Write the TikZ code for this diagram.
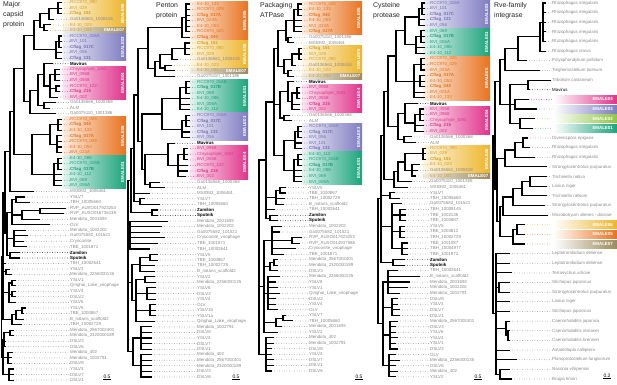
\documentclass[tikz,border=0pt]{standalone}
\usepackage{fontspec}
\setmainfont{Liberation Sans}
\usetikzlibrary{calc}
\definecolor{cO}{HTML}{E8731E}
\definecolor{cY}{HTML}{EDB52A}
\definecolor{cB}{HTML}{9C8A5E}
\definecolor{cP}{HTML}{7E7BC1}
\definecolor{cM}{HTML}{E0338B}
\definecolor{cN}{HTML}{1BA47B}
\definecolor{cL}{HTML}{8DC641}
\definecolor{lg}{HTML}{8A8A8A}
\colorlet{tO}{cO}
\colorlet{tY}{cY!88!black}
\colorlet{tP}{cP!92!black}
\colorlet{tM}{cM}
\colorlet{tN}{cN}
\newcounter{rw}
\newcounter{bx}
\newcommand\PF{a}\newcommand\LX{70}\newcommand\Yz{0}\newcommand\DY{5}
\newcommand\setpanel[4]{\setcounter{rw}{0}\renewcommand\PF{#1}\renewcommand\LX{#2}\renewcommand\Yz{#3}\renewcommand\DY{#4}}
% leaf: tip x, colour, text
\newcommand\lf[3]{%
  \stepcounter{rw}%
  \pgfmathsetmacro\yy{\Yz+(\arabic{rw}-1)*\DY}%
  \coordinate (\PF\arabic{rw}) at (#1,\yy);
  \node[lab,text=#2] (\PF\arabic{rw}t) at (\LX,\yy) {#3};
  \draw[lead,draw=#2] (\PF\arabic{rw}) -- (\PF\arabic{rw}t.west);
}
% leaf with EMALE bar (panel 5)
\newcommand\lfb[3]{%
  \stepcounter{rw}%
  \pgfmathsetmacro\yy{\Yz+(\arabic{rw}-1)*\DY}%
  \coordinate (\PF\arabic{rw}) at (#1,\yy);
  \shade[left color=white,right color=#2] (553,{\yy-4}) rectangle (617,{\yy+4});
  \node[emhz,anchor=east] (\PF\arabic{rw}t) at (613,\yy) {#3};
  \coordinate (\PF\arabic{rw}s) at (552,\yy);
  \draw[lead,draw=#2] (\PF\arabic{rw}) -- (\PF\arabic{rw}s);
}
% clade: name, x, children
\newcommand\cl[3]{%
  \gdef\cfirst{}%
  \foreach \kid in {#3}{\ifx\cfirst\empty\xdef\cfirst{\kid}\fi\xdef\clast{\kid}}%
  \path let \p1=(\cfirst), \p2=(\clast) in (#2pt,{0.5*\y1+0.5*\y2}) coordinate (#1);
  \foreach \kid in {#3}{\draw[br] (#1) |- (\kid);}%
}
% vertical EMALE box: xl, xr, first row, last row, colour, label
\newcommand\emb[6]{%
  \stepcounter{bx}%
  \pgfmathsetmacro\ya{\Yz+(#3-1.5)*\DY}%
  \pgfmathsetmacro\yb{\Yz+(#4-0.5)*\DY}%
  \pgfmathsetmacro\ym{(\ya+\yb)/2}%
  \shade[left color=#5!12,right color=#5] (#1,\ya) rectangle (#2,\yb);
  \node[emv] (bx\arabic{bx}) at ({#2-3.4},\ym) {#6};
}
% horizontal EMALE07 bar: xl, xr, row, colour, label
\newcommand\emh[5]{%
  \stepcounter{bx}%
  \pgfmathsetmacro\ya{\Yz+(#3-1.5)*\DY}%
  \pgfmathsetmacro\yb{\Yz+(#3-0.5)*\DY}%
  \pgfmathsetmacro\ym{\Yz+(#3-1)*\DY}%
  \shade[left color=#4!15,right color=#4] (#1,\ya) rectangle (#2,\yb);
  \node[emhz,anchor=east] (bx\arabic{bx}) at ({#2-1.5},\ym) {#5};
}
\begin{document}
\begin{tikzpicture}[x=1pt,y=-1pt,
  br/.style={line width=1.1pt,black},
  lead/.style={line width=0.75pt,line cap=round,dash pattern=on 0pt off 2.5pt},
  lab/.style={anchor=west,inner sep=0pt,font=\fontsize{4.4}{5}\selectfont},
  emv/.style={rotate=90,text=white,inner sep=0pt,font=\fontsize{4.4}{5}\selectfont\bfseries},
  emhz/.style={text=white,inner sep=0pt,font=\fontsize{4.4}{5}\selectfont\bfseries},
  ttl/.style={anchor=north west,align=left,inner sep=0pt,text=black!85,font=\fontsize{6.9}{9.8}\selectfont},
  scl/.style={inner sep=0pt,font=\fontsize{5}{6}\selectfont}]
\useasboundingbox (0,0) rectangle (617,384);
\fill[white] (0,0) rectangle (617,384);

% titles
\node[ttl] (t1) at (3,1.5) {Major\\capsid\\protein};
\node[ttl] (t2) at (156,3) {Penton\\protein};
\node[ttl] (t3) at (260,2) {Packaging\\ATPase};
\node[ttl] (t4) at (373,2) {Cysteine\\protease};
\node[ttl] (t5) at (494,2) {Rve-family\\integrase};

%%%%%%%%%%%%%%%% PANEL 1
\setpanel{a}{70}{2.7}{5.55}
\emb{63}{126}{1}{5}{cY}{EMALE06}
\emh{63}{126}{6}{cB}{EMALE07}
\emb{63}{126}{7}{11}{cP}{EMALE03}
\emb{63}{126}{13}{18}{cM}{EMALE04}
\emb{63}{126}{22}{28}{cO}{EMALE05}
\emb{63}{126}{29}{34}{cN}{EMALE01}
\lf{62}{tY}{RCC970\_090}
\lf{62}{tY}{BVI\_029}
\lf{62}{tY}{\textbf{Cflag\_151}}
\lf{54}{lg}{Ga0136561\_1000418}
\lf{51}{tY}{E4-10\_023}
\lf{48}{tY}{E4-10\_001}
\lf{62}{tP}{RCC970\_016A}
\lf{62}{tP}{BVI\_101}
\lf{62}{tP}{\textbf{Cflag\_017C}}
\lf{62}{tP}{BVI\_056}
\lf{62}{tP}{\textbf{Cflag\_131}}
\lf{53}{black}{\textbf{Mavirus}}
\lf{60}{tM}{Chrysophyte\_SAG}
\lf{60}{tM}{BVI\_0968}
\lf{60}{tM}{BVI\_0558}
\lf{60}{tM}{RCC970\_122}
\lf{60}{tM}{\textbf{Cflag\_215}}
\lf{58}{tM}{BVI\_002}
\lf{56}{lg}{Ga0136566\_1000368}
\lf{50}{lg}{ALM}
\lf{56}{lg}{Ga0075110\_1001386}
\lf{62}{tO}{RCC970\_025}
\lf{62}{tO}{\textbf{Cflag\_040}}
\lf{62}{tO}{E4-10\_133}
\lf{62}{tO}{\textbf{Cflag\_017A}}
\lf{62}{tO}{RCC970\_029}
\lf{62}{tO}{E4-10\_053}
\lf{62}{tO}{BVI\_023A}
\lf{62}{tN}{E4-10\_086}
\lf{62}{tN}{RCC970\_016B}
\lf{62}{tN}{\textbf{Cflag\_017B}}
\lf{62}{tN}{E4-10\_112}
\lf{62}{tN}{BVI\_069}
\lf{62}{tN}{BVI\_006A}
\lf{34}{lg}{MSI0M2\_1006461}
\lf{25}{lg}{YSLV7}
\lf{30}{lg}{TBH\_10005660}
\lf{66}{lg}{RVP\_AUXO017923253}
\lf{64}{lg}{RVP\_AUXO016736138}
\lf{40}{lg}{Mendota\_2001693}
\lf{50}{lg}{OLV}
\lf{26}{lg}{Mendota\_1002202}
\lf{28}{lg}{Ga0075582\_101521}
\lf{24}{lg}{Cryoconite}
\lf{27}{lg}{TBE\_1001871}
\lf{20}{black}{\textbf{Zamilon}}
\lf{20}{black}{\textbf{Sputnik}}
\lf{6}{lg}{TBH\_10002641}
\lf{10}{lg}{YSLV2}
\lf{12}{lg}{Mendota\_2256000135}
\lf{16}{lg}{YSLV1}
\lf{16}{lg}{Qinghai\_Lake\_virophage}
\lf{16}{lg}{YSLV4}
\lf{16}{lg}{DSLV2}
\lf{16}{lg}{YSLV6}
\lf{26}{lg}{YSLV5}
\lf{24}{lg}{TBE\_1000867}
\lf{24}{lg}{B\_natans\_scaffold2}
\lf{22}{lg}{TBH\_10002729}
\lf{14}{lg}{Mendota\_2567002401}
\lf{14}{lg}{Mendota\_2320000189}
\lf{6}{lg}{DSLV3}
\lf{6}{lg}{DSLV6}
\lf{13}{lg}{Mendota\_402}
\lf{12}{lg}{Mendota\_1002791}
\lf{12}{lg}{DSLV8}
\lf{14}{lg}{YSLV3}
\lf{14}{lg}{DSLV7}
\lf{14}{lg}{DSLV1}
\cl{aYa}{58}{a1,a2,a3}
\cl{aYb}{49}{aYa,a4}
\cl{aYc}{44}{a5,a6}
\cl{aY}{40}{aYb,aYc}
\cl{aPa}{59}{a7,a8,a9}
\cl{aP}{56}{aPa,a10,a11}
\cl{aYP}{34}{aY,aP}
\cl{aKa}{55}{a13,a14,a15}
\cl{aKb}{56}{a16,a17}
\cl{aK}{50}{aKa,aKb,a18}
\cl{aMK}{44}{a12,aK}
\cl{aOa}{44}{a19,a20}
\cl{aOb}{38}{aMK,aOa}
\cl{aOc}{30}{aOb,a21}
\cl{aRa}{58}{a22,a23,a24}
\cl{aRb}{57}{a25,a26,a27,a28}
\cl{aR}{50}{aRa,aRb}
\cl{aGa}{58}{a29,a30,a31}
\cl{aG}{54}{aGa,a32,a33,a34}
\cl{aRG}{32}{aR,aG}
\cl{aTa}{24}{aYP,aOc}
\cl{aTb}{14}{aTa,aRG}
\cl{aTc}{10}{aTb,a35}
\cl{aLa}{16}{a36,a37}
\cl{aLb}{40}{a38,a39}
\cl{aLc}{22}{aLb,a40}
\cl{aLd}{12}{aLa,aLc,a41}
\cl{aLe}{14}{a42,a43,a44,a45}
\cl{aLf}{10}{a46,a47}
\cl{aL}{7}{aLd,aLe,aLf}
\cl{aMa}{6}{a49,a50}
\cl{aMb}{12}{a51,a52}
\cl{aMc}{12}{a53,a54}
\cl{aM}{9}{aMb,aMc,a55}
\cl{aNa}{22}{a56,a57}
\cl{aNb}{16}{aNa,a58}
\cl{aN}{12}{aNb,a59}
\cl{aQa}{10}{a60,a61}
\cl{aQb}{4}{aQa,a62,a63}
\cl{aQc}{8}{a64,a65,a66}
\cl{aQd}{9}{a67,a68,a69}
\cl{aQ}{3}{aQb,aQc,aQd}
\cl{aU}{5}{aTc,aL}
\cl{aV}{3}{aU,a48,aMa,aM,aN}
\cl{aRt}{1.5}{aV,aQ}
\node[scl] (s1) at (107,376.5) {0.5};
\draw[line width=0.6pt] ($(s1.south west)+(0,0.9)$) -- ($(s1.south east)+(0,0.9)$);

%%%%%%%%%%%%%%%% PANEL 2
\setpanel{b}{197}{4}{5.567}
\emb{190}{248}{1}{7}{cO}{EMALE05}
\emb{190}{248}{8}{12}{cY}{EMALE06}
\emh{190}{248}{13}{cB}{EMALE07}
\emb{190}{248}{15}{20}{cN}{EMALE01}
\emb{190}{248}{21}{25}{cP}{EMALE03}
\emb{190}{248}{27}{32}{cM}{EMALE04}
\lf{190}{tO}{E4-10\_133}
\lf{190}{tO}{RCC970\_029}
\lf{190}{tO}{\textbf{Cflag\_017A}}
\lf{190}{tO}{BVI\_023A}
\lf{190}{tO}{E4-10\_053}
\lf{190}{tO}{RCC970\_025}
\lf{190}{tO}{\textbf{Cflag\_040}}
\lf{190}{tY}{\textbf{Cflag\_151}}
\lf{190}{tY}{RCC970\_090}
\lf{190}{tY}{BVI\_029}
\lf{178}{lg}{Ga0136561\_1000418}
\lf{172}{tY}{E4-10\_023}
\lf{175}{tY}{E4-10\_001}
\lf{175}{lg}{Ga0075110\_1001386}
\lf{190}{tN}{RCC970\_016B}
\lf{190}{tN}{\textbf{Cflag\_017B}}
\lf{190}{tN}{BVI\_069}
\lf{190}{tN}{E4-10\_086}
\lf{190}{tN}{BVI\_006A}
\lf{190}{tN}{E4-10\_112}
\lf{190}{tP}{RCC970\_016A}
\lf{190}{tP}{\textbf{Cflag\_017C}}
\lf{190}{tP}{BVI\_101}
\lf{190}{tP}{\textbf{Cflag\_131}}
\lf{190}{tP}{BVI\_056}
\lf{175}{black}{\textbf{Mavirus}}
\lf{188}{tM}{BVI\_0968}
\lf{188}{tM}{Chrysophyte\_SAG}
\lf{188}{tM}{BVI\_0558}
\lf{188}{tM}{RCC970\_122}
\lf{188}{tM}{\textbf{Cflag\_215}}
\lf{186}{tM}{BVI\_002}
\lf{160}{lg}{Ga0136566\_1000368}
\lf{165}{lg}{ALM}
\lf{150}{lg}{MSI0M2\_1006461}
\lf{145}{lg}{YSLV7}
\lf{160}{lg}{TBH\_10005660}
\lf{158}{black}{\textbf{Zamilon}}
\lf{158}{black}{\textbf{Sputnik}}
\lf{168}{lg}{Mendota\_2001693}
\lf{162}{lg}{Mendota\_1002202}
\lf{160}{lg}{Ga0075582\_101521}
\lf{165}{lg}{Cryoconite\_virophage}
\lf{158}{lg}{TBE\_1001871}
\lf{150}{lg}{TBH\_10002641}
\lf{158}{lg}{YSLV5}
\lf{158}{lg}{TBE\_1000867}
\lf{155}{lg}{TBH\_10002729}
\lf{155}{lg}{B\_natans\_scaffold2}
\lf{155}{lg}{YSLV2}
\lf{156}{lg}{Mendota\_2256000135}
\lf{156}{lg}{YSLV6}
\lf{156}{lg}{DSLV2}
\lf{156}{lg}{YSLV4}
\lf{156}{lg}{OLV}
\lf{156}{lg}{YSLV1b}
\lf{156}{lg}{YSLV1a}
\lf{155}{lg}{Qinghai\_Lake\_virophage}
\lf{152}{lg}{Mendota\_1002791}
\lf{152}{lg}{DSLV8}
\lf{152}{lg}{YSLV3}
\lf{152}{lg}{DSLV7}
\lf{152}{lg}{DSLV1}
\lf{152}{lg}{Mendota\_402}
\lf{152}{lg}{Mendota\_2567002401}
\lf{152}{lg}{Mendota\_2320000189}
\lf{152}{lg}{DSLV3}
\lf{152}{lg}{DSLV6}
\cl{bRa}{186}{b1,b2,b3,b4,b5,b6}
\cl{bR}{182}{bRa,b7}
\cl{bYa}{185}{b8,b9,b10}
\cl{bYb}{172}{bYa,b11}
\cl{bYc}{165}{b12,b13}
\cl{bY}{160}{bYb,bYc}
\cl{bA}{155}{bY,b14}
\cl{bB}{148}{bR,bA}
\cl{bGa}{186}{b15,b16,b17}
\cl{bG}{180}{bGa,b18,b19,b20}
\cl{bPa}{186}{b21,b22,b23}
\cl{bP}{182}{bPa,b24,b25}
\cl{bGP}{162}{bG,bP}
\cl{bKa}{184}{b27,b28,b29}
\cl{bK}{178}{bKa,b30,b31,b32}
\cl{bMK}{168}{b26,bK}
\cl{bOa}{150}{b33,b34}
\cl{bOb}{145}{bMK,bOa}
\cl{bC}{142}{bGP,bOb}
\cl{bD}{138}{bB,bC}
\cl{bEa}{140}{b36,b37}
\cl{bE}{134}{bD,b35,bEa}
\cl{bZ}{152}{b38,b39}
\cl{bF}{131}{bE,bZ}
\cl{bH}{130}{b40,b41,b42,b43,b44,b45}
\cl{bIa}{150}{b46,b47}
\cl{bI}{140}{bIa,b48,b49}
\cl{bJa}{145}{b50,b51}
\cl{bJb}{147}{b52,b53,b54}
\cl{bJc}{150}{b55,b56,b57}
\cl{bJ}{136}{bJa,bJb,bJc,b58}
\cl{bLa}{141}{b59,b60,b61,b62,b63}
\cl{bLb}{141}{b64,b65,b66,b67,b68}
\cl{bL}{133}{bLa,bLb}
\cl{bM}{132}{bI,bJ}
\cl{bRt}{128}{bF,bH,bM,bL}
\node[scl] (s2) at (236,376.5) {0.5};
\draw[line width=0.6pt] ($(s2.south west)+(0,0.9)$) -- ($(s2.south east)+(0,0.9)$);

%%%%%%%%%%%%%%%% PANEL 3
\setpanel{c}{309}{4}{5.56}
\emb{302}{362}{1}{6}{cO}{EMALE05}
\emb{302}{362}{9}{13}{cY}{EMALE06}
\emh{302}{362}{14}{cB}{EMALE07}
\emb{302}{362}{16}{20}{cM}{EMALE04}
\emb{302}{362}{23}{27}{cP}{EMALE03}
\emb{302}{362}{28}{33}{cN}{EMALE01}
\lf{302}{tO}{RCC970\_025}
\lf{302}{tO}{E4-10\_133}
\lf{302}{tO}{\textbf{Cflag\_040}}
\lf{302}{tO}{E4-10\_053}
\lf{302}{tO}{BVI\_023A}
\lf{302}{tO}{\textbf{Cflag\_017A}}
\lf{292}{lg}{Ga0075110\_1001386}
\lf{294}{lg}{MSI0M2\_1006461}
\lf{302}{tY}{\textbf{Cflag\_151}}
\lf{302}{tY}{BVI\_029}
\lf{302}{tY}{RCC970\_090}
\lf{296}{lg}{Ga0136561\_1000418}
\lf{292}{tY}{E4-10\_023}
\lf{294}{tY}{E4-10\_001}
\lf{294}{black}{\textbf{Mavirus}}
\lf{300}{tM}{BVI\_0968}
\lf{300}{tM}{Chrysophyte\_SAG}
\lf{300}{tM}{BVI\_0558}
\lf{300}{tM}{\textbf{Cflag\_215}}
\lf{300}{tM}{BVI\_002}
\lf{290}{lg}{Ga0136566\_1000368}
\lf{292}{lg}{ALM}
\lf{302}{tP}{RCC970\_016A}
\lf{302}{tP}{\textbf{Cflag\_017C}}
\lf{302}{tP}{BVI\_056}
\lf{302}{tP}{BVI\_101}
\lf{302}{tP}{\textbf{Cflag\_131}}
\lf{302}{tN}{E4-10\_112}
\lf{302}{tN}{RCC970\_016B}
\lf{302}{tN}{\textbf{Cflag\_017B}}
\lf{302}{tN}{E4-10\_086}
\lf{302}{tN}{BVI\_069}
\lf{302}{tN}{BVI\_006A}
\lf{286}{lg}{YSLV5}
\lf{286}{lg}{TBE\_1000867}
\lf{285}{lg}{TBH\_10002729}
\lf{284}{lg}{B\_natans\_scaffold2}
\lf{275}{lg}{TBH\_10002641}
\lf{278}{black}{\textbf{Zamilon}}
\lf{278}{black}{\textbf{Sputnik}}
\lf{282}{lg}{Mendota\_1002202}
\lf{280}{lg}{Ga0075582\_101521}
\lf{302}{lg}{RVP\_AUXO017923253}
\lf{300}{lg}{RVP\_AUXO014937588}
\lf{296}{lg}{Cryoconite\_virophage}
\lf{284}{lg}{TBE\_1001871}
\lf{278}{lg}{Mendota\_2567002401}
\lf{278}{lg}{Mendota\_2320000189}
\lf{278}{lg}{DSLV3}
\lf{280}{lg}{Mendota\_2256000135}
\lf{276}{lg}{YSLV6}
\lf{278}{lg}{YSLV1}
\lf{280}{lg}{Qinghai\_Lake\_virophage}
\lf{276}{lg}{DSLV2}
\lf{276}{lg}{YSLV4}
\lf{278}{lg}{OLV}
\lf{286}{lg}{YSLV7}
\lf{293}{lg}{TBH\_10005660}
\lf{282}{lg}{Mendota\_2001693}
\lf{278}{lg}{YSLV2}
\lf{274}{lg}{Mendota\_402}
\lf{274}{lg}{Mendota\_1002791}
\lf{272}{lg}{DSLV8}
\lf{272}{lg}{YSLV3}
\lf{274}{lg}{DSLV7}
\lf{274}{lg}{DSLV1}
\lf{272}{lg}{DSLV6}
\cl{cRa}{298}{c1,c2,c3}
\cl{cR}{294}{cRa,c4,c5,c6}
\cl{cOa}{288}{c7,c8}
\cl{cRO}{286}{cR,cOa}
\cl{cYa}{299}{c9,c10,c11}
\cl{cYb}{292}{cYa,c12}
\cl{cYc}{288}{c13,c14}
\cl{cY}{284}{cYb,cYc}
\cl{cA}{278}{cRO,cY}
\cl{cKa}{297}{c16,c17,c18}
\cl{cK}{292}{cKa,c19,c20}
\cl{cMK}{288}{c15,cK}
\cl{cOb}{284}{c21,c22}
\cl{cB}{280}{cMK,cOb}
\cl{cPa}{298}{c23,c24,c25}
\cl{cP}{295}{cPa,c26,c27}
\cl{cGa}{298}{c28,c29,c30}
\cl{cG}{294}{cGa,c31,c32,c33}
\cl{cPG}{284}{cP,cG}
\cl{cC}{274}{cA,cB,cPG}
\cl{cDa}{280}{c34,c35}
\cl{cDb}{276}{cDa,c36,c37}
\cl{cZ}{270}{c39,c40}
\cl{cD}{266}{cC,cDb,c38,cZ}
\cl{cEa}{292}{c43,c44}
\cl{cEb}{272}{c41,c42,cEa,c45,c46}
\cl{cFa}{274}{c47,c48}
\cl{cF}{270}{cFa,c49}
\cl{cHa}{283}{c57,c58}
\cl{cHb}{276}{cHa,c59}
\cl{cGg}{268}{c50,c51,c52,c53,c54,c55,c56}
\cl{cE}{264}{cEb,cF,cGg,cHb,c60}
\cl{cKk}{266}{c61,c62,c63,c64,c65,c66,c67}
\cl{cRt}{259}{cD,cE,cKk}
\node[scl] (s3) at (359,376.5) {0.5};
\draw[line width=0.6pt] ($(s3.south west)+(0,0.9)$) -- ($(s3.south east)+(0,0.9)$);

%%%%%%%%%%%%%%%% PANEL 4
\setpanel{d}{430}{3}{5.58}
\emb{423}{490}{1}{5}{cP}{EMALE03}
\emb{423}{490}{6}{10}{cN}{EMALE01}
\emb{423}{490}{11}{18}{cO}{EMALE05}
\emb{423}{490}{20}{24}{cM}{EMALE04}
\emb{423}{490}{27}{31}{cY}{EMALE06}
\emh{423}{490}{32}{cB}{EMALE07}
\lf{425}{tP}{RCC970\_016A}
\lf{425}{tP}{BVI\_101}
\lf{425}{tP}{\textbf{Cflag\_017C}}
\lf{425}{tP}{\textbf{Cflag\_131}}
\lf{425}{tP}{BVI\_056}
\lf{425}{tN}{BVI\_069}
\lf{425}{tN}{\textbf{Cflag\_017B}}
\lf{425}{tN}{BVI\_006A}
\lf{425}{tN}{E4-10\_086}
\lf{425}{tN}{E4-10\_112}
\lf{425}{tO}{RCC970\_025}
\lf{425}{tO}{RCC970\_029}
\lf{425}{tO}{BVI\_023A}
\lf{425}{tO}{\textbf{Cflag\_017A}}
\lf{425}{tO}{E4-10\_053}
\lf{425}{tO}{\textbf{Cflag\_040}}
\lf{425}{tO}{BVI\_001A}
\lf{425}{tO}{E4-10\_133}
\lf{418}{black}{\textbf{Mavirus}}
\lf{424}{tM}{BVI\_0558}
\lf{424}{tM}{BVI\_0968}
\lf{424}{tM}{Chrysophyte\_SAG}
\lf{424}{tM}{\textbf{Cflag\_215}}
\lf{424}{tM}{BVI\_002}
\lf{412}{lg}{Ga0136566\_1000368}
\lf{416}{lg}{ALM}
\lf{426}{tY}{RCC970\_090}
\lf{426}{tY}{BVI\_029}
\lf{426}{tY}{\textbf{Cflag\_151}}
\lf{420}{tY}{E4-10\_023}
\lf{418}{lg}{Ga0136561\_1000418}
\lf{416}{tY}{E4-10\_001}
\lf{412}{lg}{Ga0075110\_1001386}
\lf{408}{lg}{MSI0M2\_1006461}
\lf{395}{lg}{YSLV7}
\lf{400}{lg}{TBH\_10005660}
\lf{402}{lg}{Ga0075582\_101521}
\lf{406}{lg}{TBH\_10008145}
\lf{406}{lg}{TBE\_1002136}
\lf{406}{lg}{TBE\_1000887}
\lf{405}{lg}{YSLV5}
\lf{405}{lg}{TBE\_1004812}
\lf{405}{lg}{TBH\_10002729}
\lf{408}{lg}{TBE\_1001087}
\lf{408}{lg}{TBH\_10004977}
\lf{408}{lg}{TBE\_1001871}
\lf{405}{black}{\textbf{Zamilon}}
\lf{405}{black}{\textbf{Sputnik}}
\lf{398}{lg}{TBH\_10002641}
\lf{420}{lg}{B\_natans\_scaffold2}
\lf{410}{lg}{Mendota\_2001693}
\lf{408}{lg}{Mendota\_1002202}
\lf{400}{lg}{Mendota\_1002791}
\lf{398}{lg}{DSLV8}
\lf{398}{lg}{YSLV3}
\lf{400}{lg}{DSLV7}
\lf{400}{lg}{DSLV1}
\lf{398}{lg}{Mendota\_2567002401}
\lf{396}{lg}{DSLV3}
\lf{396}{lg}{YSLV6}
\lf{398}{lg}{YSLV4}
\lf{396}{lg}{YSLV1}
\lf{398}{lg}{DSLV2}
\lf{396}{lg}{OLV}
\lf{400}{lg}{Mendota\_2256000135}
\lf{396}{lg}{DSLV6}
\lf{398}{lg}{Mendota\_402}
\lf{396}{lg}{YSLV2}
\cl{dPa}{422}{d1,d2,d3}
\cl{dP}{419}{dPa,d4,d5}
\cl{dGa}{421}{d6,d7,d8}
\cl{dG}{416}{dGa,d9,d10}
\cl{dPG}{405}{dP,dG}
\cl{dRa}{421}{d11,d12,d13}
\cl{dRb}{420}{d14,d15,d16}
\cl{dR}{414}{dRa,dRb,d17,d18}
\cl{dA}{396}{dPG,dR}
\cl{dKa}{420}{d20,d21,d22}
\cl{dK}{415}{dKa,d23,d24}
\cl{dMK}{405}{d19,dK}
\cl{dOa}{404}{d25,d26}
\cl{dB}{398}{dMK,dOa}
\cl{dYa}{423}{d27,d28,d29}
\cl{dYb}{412}{d30,d31,d32}
\cl{dY}{405}{dYa,dYb}
\cl{dOb}{398}{dY,d33}
\cl{dOc}{394}{dOb,d34}
\cl{dC}{388}{dA,dB}
\cl{dD}{384}{dC,dOc}
\cl{dEa}{390}{d35,d36}
\cl{dFa}{400}{d38,d39,d40}
\cl{dFb}{400}{d41,d42,d43}
\cl{dFc}{402}{d44,d45,d46}
\cl{dF}{392}{d37,dFa,dFb,dFc}
\cl{dZ}{393}{d47,d48}
\cl{dE}{381}{dD,dEa,dF,dZ}
\cl{dH}{388}{d49,d50,d51,d52,d53}
\cl{dI}{392}{d54,d55,d56,d57}
\cl{dJ}{390}{d58,d59,d60,d61,d62,d63}
\cl{dL}{389}{d64,d65,d66,d67,d68}
\cl{dM}{383}{dH,dI,dJ,dL}
\cl{dRt}{378}{dE,dM}
\node[scl] (s4) at (478,376.5) {0.5};
\draw[line width=0.6pt] ($(s4.south west)+(0,0.9)$) -- ($(s4.south east)+(0,0.9)$);

%%%%%%%%%%%%%%%% PANEL 5
\setpanel{e}{552}{3}{9.64}
\lf{546}{lg}{Rhizophagus irregularis}
\lf{546}{lg}{Rhizophagus irregularis}
\lf{546}{lg}{Rhizophagus irregularis}
\lf{546}{lg}{Rhizophagus irregularis}
\lf{546}{lg}{Rhizophagus irregularis}
\lf{546}{lg}{Rhizophagus clarus}
\lf{527}{lg}{Polysphondylium pallidum}
\lf{540}{lg}{Tieghemostelium lacteum}
\lf{551}{lg}{Tribolium castaneum}
\lf{530}{black}{Mavirus}
\lfb{529}{cM}{EMALE04}
\lfb{537}{cP}{EMALE03}
\lfb{535}{cL}{EMALE02}
\lfb{533}{cN}{EMALE01}
\lf{528}{lg}{Diversispora epigaea}
\lf{530}{lg}{Rhizophagus irregularis}
\lf{535}{lg}{Rhizophagus irregularis}
\lf{547}{lg}{Strongylocentrotus purpuratus}
\lf{547}{lg}{Trichinella nativa}
\lf{547}{lg}{Lasius niger}
\lf{547}{lg}{Trichinella nelsoni}
\lf{545}{lg}{Strongylocentrotus purpuratus}
\lf{548}{lg}{Microbotryum silenes - dioicae}
\lfb{525}{cY}{EMALE06}
\lfb{525}{cO}{EMALE05}
\lfb{525}{cB}{EMALE07}
\lf{510}{lg}{Leptotrombidium deliense}
\lf{510}{lg}{Leptotrombidium deliense}
\lf{512}{lg}{Tetranychus urticae}
\lf{510}{lg}{Stichopus japonicus}
\lf{510}{lg}{Strongylocentrotus purpuratus}
\lf{510}{lg}{Lasius niger}
\lf{510}{lg}{Stichopus japonicus}
\lf{510}{lg}{Caenorhabditis japonica}
\lf{510}{lg}{Caenorhabditis remanei}
\lf{510}{lg}{Caenorhabditis brenneri}
\lf{510}{lg}{Astatotilapia calliptera}
\lf{517}{lg}{Planoprotostelium fungivorum}
\lf{510}{lg}{Nasonia vitripennis}
\lf{512}{lg}{Brugia timori}
\cl{eAa}{543}{e1,e2,e3,e4,e5}
\cl{eAb}{540}{eAa,e6}
\cl{eA}{518}{eAb,e7}
\cl{eB}{505}{eA,e8}
\cl{eCa}{528}{e9,e10}
\cl{eCb}{515}{e11,e12}
\cl{eCc}{520}{e13,e14}
\cl{eC}{510}{eCa,eCb,eCc}
\cl{eD}{500}{eB,eC}
\cl{eFa}{523}{e15,e16}
\cl{eFb}{515}{eFa,e17}
\cl{eFc}{505}{eFb,e18}
\cl{eGa}{530}{e19,e20}
\cl{eGb}{522}{eGa,e21}
\cl{eGc}{513}{eGb,e22}
\cl{eGd}{503}{eGc,e23}
\cl{eHa}{517}{e24,e25}
\cl{eHb}{513}{eHa,e26}
\cl{eH}{500}{eGd,eHb}
\cl{eI}{497}{eFc,eH}
\cl{eJ}{495}{eD,eI}
\cl{eKa}{499}{e30,e31}
\cl{eKb}{508}{e35,e36}
\cl{eKc}{506}{e34,eKb}
\cl{eKd}{500}{e39,e40}
\cl{eK}{496}{e27,e28,e29,eKa,e32,e33,eKc,e37,e38,eKd}
\cl{eRt}{493}{eJ,eK}
\node[scl] (s5) at (607,375.5) {0.2};
\draw[line width=0.6pt] ($(s5.south west)+(0,0.9)$) -- ($(s5.south east)+(0,0.9)$);
\end{tikzpicture}
\end{document}
